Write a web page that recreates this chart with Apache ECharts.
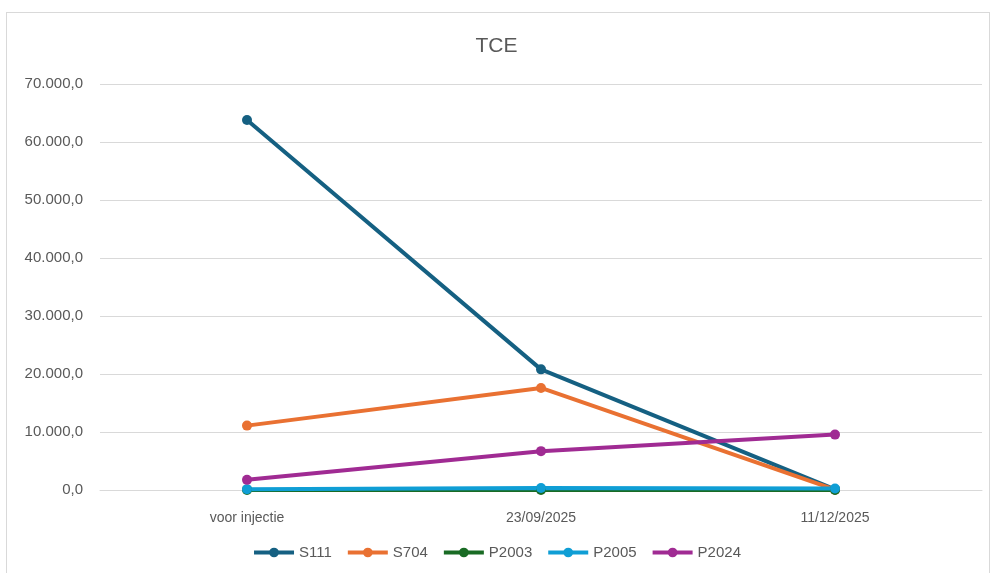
<!DOCTYPE html>
<html><head><meta charset="utf-8">
<script src="https://cdn.jsdelivr.net/npm/echarts@6/dist/echarts.min.js"></script>
<style>
html,body{margin:0;padding:0;background:#fff;}
#frame{position:absolute;left:6px;top:12px;width:984px;height:570px;border:1px solid #d9d9d9;box-sizing:border-box;}
#c{position:absolute;left:0;top:0;width:993px;height:573px;}
</style></head>
<body><div id="frame"></div><div id="c"></div>
<script>
const categories = ['voor injectie', '23/09/2025', '11/12/2025'];
const S111 = [63800, 20800, 100];
const S704 = [11100, 17600, 50];
const P2003 = [20, 20, 20];
const P2005 = [150, 350, 250];
const P2024 = [1750, 6700, 9550];
const seriesNames = ['S111', 'S704', 'P2003', 'P2005', 'P2024'];
const seriesData = [S111, S704, P2003, P2005, P2024];
const colors = ['#156082', '#e97132', '#196b24', '#0f9ed5', '#a02b93'];
const yTicks = [0, 10000, 20000, 30000, 40000, 50000, 60000, 70000];

function fmt(v){
  const s = Math.round(v).toString().replace(/\B(?=(\d{3})+(?!\d))/g, '.');
  return s + ',0';
}
const chart = echarts.init(document.getElementById('c'));
chart.setOption({
  animation:false,
  backgroundColor:'transparent',
  color: colors,
  title:{text:'TCE', left:'center', top:31, textStyle:{fontFamily:'Liberation Sans', fontWeight:'normal', fontSize:21, color:'#595959'}},
  grid:{left:100, right:11, top:84, bottom:83, containLabel:false},
  xAxis:{type:'category', data:categories, boundaryGap:true,
    axisLine:{lineStyle:{color:'#d9d9d9'}}, axisTick:{show:false},
    axisLabel:{color:'#595959', fontSize:14, margin:21, fontFamily:'Liberation Sans'}},
  yAxis:{type:'value', min:yTicks[0], max:yTicks[yTicks.length-1], interval:10000,
    axisLine:{show:false}, axisTick:{show:false},
    splitLine:{lineStyle:{color:'#d9d9d9'}},
    axisLabel:{color:'#595959', fontSize:15, margin:17, formatter:fmt, fontFamily:'Liberation Sans'}},
  legend:{bottom:8, left:'center', itemWidth:40, itemHeight:12, itemGap:14,
    lineStyle:{width:4},
    textStyle:{color:'#595959', fontSize:15, fontFamily:'Liberation Sans'},
    data:seriesNames},
  series: seriesNames.map((n,i)=>({
    name:n, type:'line', data:seriesData[i], symbol:'circle', symbolSize:10,
    lineStyle:{width:4, color:colors[i]}, itemStyle:{color:colors[i]}
  }))
});
</script></body></html>
